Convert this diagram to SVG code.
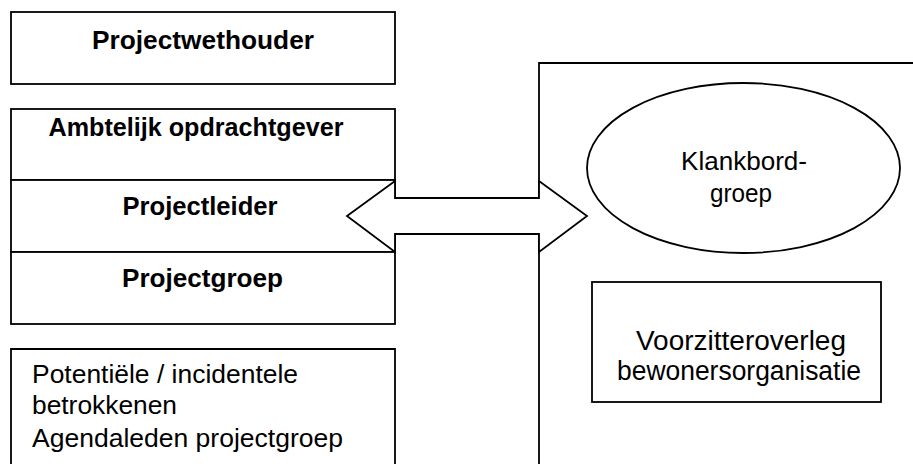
<svg xmlns="http://www.w3.org/2000/svg" width="913" height="464" viewBox="0 0 913 464">
<style>
.box{fill:#fff;stroke:#000;stroke-width:1.8}
.ln{fill:none;stroke:#000;stroke-width:1.8}
.b{font-family:"Liberation Sans",Arial,sans-serif;font-weight:bold;font-size:25.5px;fill:#000}
.r{font-family:"Liberation Sans",Arial,sans-serif;font-size:26px;fill:#000}
.v{font-size:27px}
.m{text-anchor:middle}
</style>
<rect width="913" height="464" fill="#fff"/>
<g id="projectwethouder">
<rect class="box" x="11" y="12" width="384" height="72"/>
<text class="b m" x="203" y="49" textLength="222" lengthAdjust="spacingAndGlyphs">Projectwethouder</text>
</g>
<g id="ambtelijk-opdrachtgever">
<rect class="box" x="11" y="109" width="384" height="71"/>
<text class="b m" x="196" y="136" textLength="295" lengthAdjust="spacingAndGlyphs">Ambtelijk opdrachtgever</text>
</g>
<g id="projectleider">
<rect class="box" x="11" y="180" width="384" height="72"/>
<text class="b m" x="200" y="215" textLength="155" lengthAdjust="spacingAndGlyphs">Projectleider</text>
</g>
<g id="projectgroep">
<rect class="box" x="11" y="252" width="384" height="72"/>
<text class="b m" x="202.5" y="287" textLength="161" lengthAdjust="spacingAndGlyphs">Projectgroep</text>
</g>
<g id="potentiele-betrokkenen">
<path class="ln" d="M11,466 V349 H395 V466"/>
<text class="r" x="32" y="383" textLength="266" lengthAdjust="spacingAndGlyphs">Potentiële / incidentele</text>
<text class="r" x="32" y="414" textLength="145" lengthAdjust="spacingAndGlyphs">betrokkenen</text>
<text class="r" x="32" y="447" textLength="311" lengthAdjust="spacingAndGlyphs">Agendaleden projectgroep</text>
</g>
<g id="bewoners-kader">
<path class="ln" d="M539,466 V63 H915"/>
</g>
<g id="klankbordgroep">
<ellipse class="box" cx="743.5" cy="168" rx="156.5" ry="85"/>
<text class="r m" x="744" y="170" textLength="126" lengthAdjust="spacingAndGlyphs">Klankbord-</text>
<text class="r m" x="741" y="202" textLength="62" lengthAdjust="spacingAndGlyphs">groep</text>
</g>
<g id="voorzitteroverleg">
<rect class="box" x="592" y="282" width="289" height="120"/>
<text class="r v m" x="741" y="350" textLength="210" lengthAdjust="spacingAndGlyphs">Voorzitteroverleg</text>
<text class="r v m" x="739" y="380" textLength="244" lengthAdjust="spacingAndGlyphs">bewonersorganisatie</text>
</g>
<g id="connectors">
<polygon class="box" points="347,216 395,181 395,198 539,198 539,181 587,216 539,252 539,234 395,234 395,252"/>
</g>
</svg>
